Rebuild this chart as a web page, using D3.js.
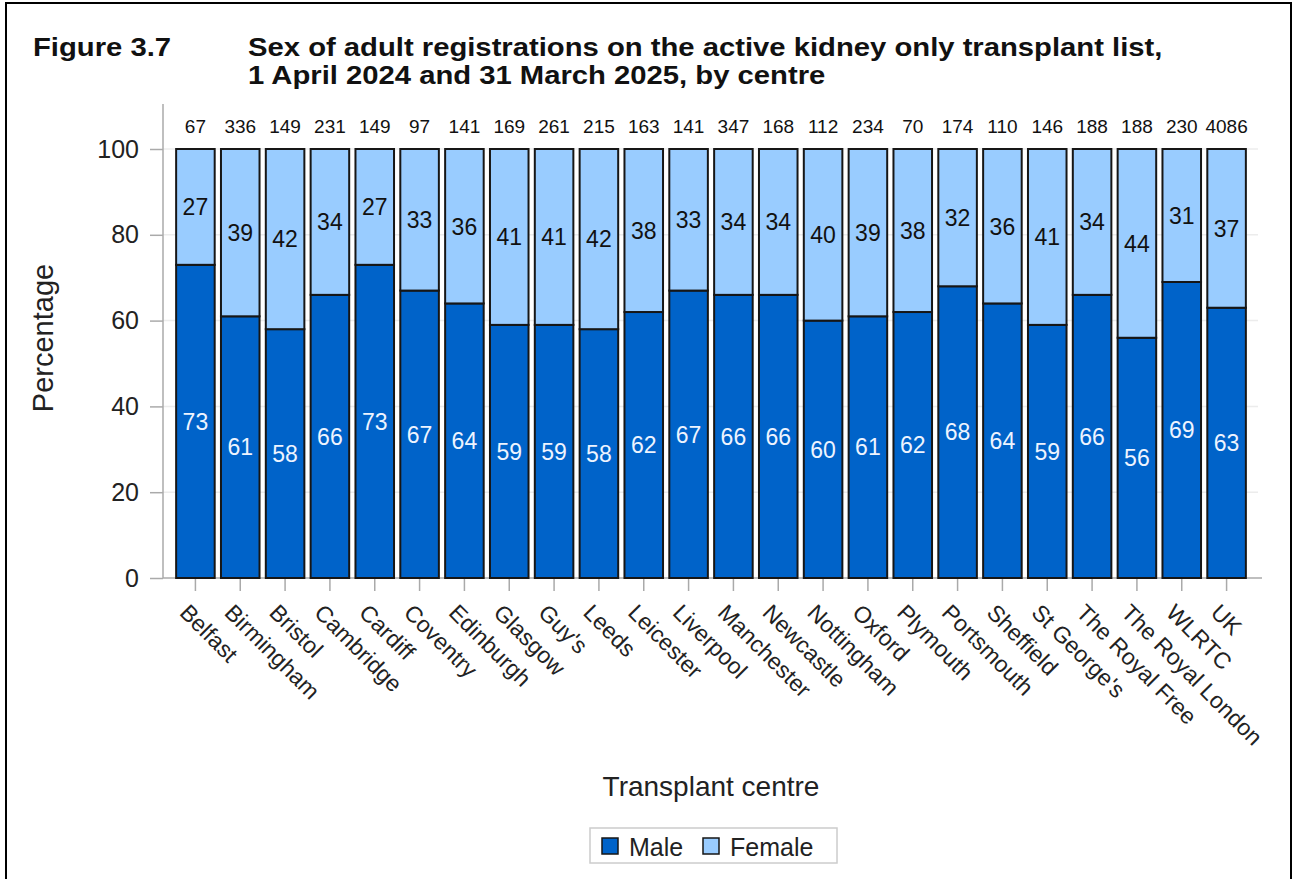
<!DOCTYPE html>
<html>
<head>
<meta charset="utf-8">
<script src="https://cdnjs.cloudflare.com/ajax/libs/d3/7.8.5/d3.min.js"></script>
<style>
  body { margin: 0; background: #fff; }
  svg { display: block; font-family: "Liberation Sans", Arial, sans-serif; }
</style>
</head>
<body>
<div id="chart"></div>
<script>
// data
const centres = ["Belfast", "Birmingham", "Bristol", "Cambridge", "Cardiff", "Coventry", "Edinburgh",
    "Glasgow", "Guy's", "Leeds", "Leicester", "Liverpool", "Manchester", "Newcastle", "Nottingham",
    "Oxford", "Plymouth", "Portsmouth", "Sheffield", "St George's", "The Royal Free", "The Royal London",
    "WLRTC", "UK"];
const malePct = [73, 61, 58, 66, 73, 67, 64, 59, 59, 58, 62, 67, 66, 66, 60, 61, 62, 68, 64, 59, 66, 56, 69, 63];
const femalePct = [27, 39, 42, 34, 27, 33, 36, 41, 41, 42, 38, 33, 34, 34, 40, 39, 38, 32, 36, 41, 34, 44, 31, 37];
const totals = [67, 336, 149, 231, 149, 97, 141, 169, 261, 215, 163, 141, 347, 168, 112, 234, 70, 174, 110, 146, 188, 188, 230, 4086];
const yTicks = [0, 20, 40, 60, 80, 100];
const seriesNames = ["Male", "Female"];
const seriesColours = ["#0063C9", "#99CCFF"];

const W = 1295, H = 879;
const svg = d3.select("#chart").append("svg")
    .attr("width", W)
    .attr("height", H);

// outer frame
svg.append("rect")
    .attr("x", 6).attr("y", 3)
    .attr("width", 1285).attr("height", 920)
    .attr("fill", "none")
    .attr("stroke", "#000")
    .attr("stroke-width", 2);

// titles (the source font is wider than Liberation Sans, so stretch a little)
const titleLines = [
    { x: 33, y: 56, text: "Figure 3.7" },
    { x: 248, y: 56, text: "Sex of adult registrations on the active kidney only transplant list," },
    { x: 248, y: 84, text: "1 April 2024 and 31 March 2025, by centre" }
];
svg.append("g")
    .selectAll("text")
    .data(titleLines)
    .join("text")
    .attr("transform", d => `translate(${d.x},${d.y}) scale(1.17,1)`)
    .attr("font-size", "25px").attr("font-weight", "bold")
    .attr("fill", "#111")
    .text(d => d.text);

// scales
const axisLeft = 163, axisRight = 1262, axisBottom = 578;
const x = d3.scaleBand()
    .domain(centres)
    .range([173, 1249])
    .paddingInner(0.14)
    .paddingOuter(0.07);
const y = d3.scaleLinear()
    .domain([0, 100])
    .range([axisBottom, 149]);

const data = centres.map((c, i) => ({ centre: c, male: malePct[i], female: femalePct[i], total: totals[i] }));
const stacked = d3.stack().keys(["male", "female"])(data);

// gridlines
svg.append("g")
    .selectAll("line")
    .data(yTicks.filter(t => t > 0))
    .join("line")
    .attr("x1", axisLeft).attr("x2", 1258)
    .attr("y1", d => y(d)).attr("y2", d => y(d))
    .attr("stroke", "#ececec")
    .attr("stroke-width", 1.5);

// y axis
const yAxis = svg.append("g")
    .attr("transform", `translate(${axisLeft},0)`)
    .call(d3.axisLeft(y).tickValues(yTicks).tickSize(13).tickPadding(11));
yAxis.select(".domain").remove();
yAxis.selectAll(".tick line").attr("stroke", "#aaa").attr("stroke-width", 1.5);
yAxis.selectAll(".tick text")
    .attr("font-size", "25px")
    .attr("font-family", "Liberation Sans, Arial, sans-serif")
    .attr("fill", "#222");
svg.append("line")
    .attr("x1", axisLeft).attr("x2", axisLeft)
    .attr("y1", y(110.5)).attr("y2", axisBottom)
    .attr("stroke", "#aaa").attr("stroke-width", 1.5);

// x axis
const xAxis = svg.append("g")
    .attr("transform", `translate(0,${axisBottom})`)
    .call(d3.axisBottom(x).tickSize(13).tickFormat(""));
xAxis.select(".domain").remove();
xAxis.selectAll(".tick line").attr("stroke", "#aaa").attr("stroke-width", 1.5);
svg.append("line")
    .attr("x1", axisLeft).attr("x2", axisRight)
    .attr("y1", axisBottom).attr("y2", axisBottom)
    .attr("stroke", "#aaa").attr("stroke-width", 1.5);

// rotated centre labels
svg.append("g")
    .selectAll("text")
    .data(centres)
    .join("text")
    .attr("transform", d => `translate(${x(d) + x.bandwidth() / 2 - 17},614) rotate(45)`)
    .attr("font-size", "23px")
    .attr("fill", "#222")
    .text(d => d);

// bars
const layers = svg.append("g")
    .selectAll("g")
    .data(stacked)
    .join("g")
    .attr("fill", (d, i) => seriesColours[i]);

layers.selectAll("rect")
    .data(d => d)
    .join("rect")
    .attr("x", d => x(d.data.centre))
    .attr("width", x.bandwidth())
    .attr("y", d => y(d[1]))
    .attr("height", d => y(d[0]) - y(d[1]))
    .attr("stroke", "#161616")
    .attr("stroke-width", 2);

// segment labels
layers.selectAll("text")
    .data(d => d)
    .join("text")
    .attr("x", d => x(d.data.centre) + x.bandwidth() / 2)
    .attr("y", d => (y(d[0]) + y(d[1])) / 2)
    .attr("dy", "0.36em")
    .attr("text-anchor", "middle")
    .attr("font-size", "23px")
    .attr("fill", (d, i, n) => d3.select(n[i].parentNode).datum().key === "male" ? "#eef4ff" : "#111")
    .text(d => d[1] - d[0]);

// totals above bars
svg.append("g")
    .selectAll("text")
    .data(data)
    .join("text")
    .attr("x", d => x(d.centre) + x.bandwidth() / 2)
    .attr("y", 133)
    .attr("text-anchor", "middle")
    .attr("font-size", "19px")
    .attr("fill", "#111")
    .text(d => d.total);

// axis titles
svg.append("text")
    .attr("transform", "translate(53,338) rotate(-90)")
    .attr("text-anchor", "middle")
    .attr("font-size", "29px")
    .attr("fill", "#222")
    .text("Percentage");
svg.append("text")
    .attr("x", 711).attr("y", 796)
    .attr("text-anchor", "middle")
    .attr("font-size", "28px")
    .attr("fill", "#222")
    .text("Transplant centre");

// legend
const legend = svg.append("g");
legend.append("rect")
    .attr("x", 590).attr("y", 828)
    .attr("width", 247).attr("height", 35)
    .attr("fill", "#fff")
    .attr("stroke", "#ccc")
    .attr("stroke-width", 1.5);
const legX = [602, 703];
seriesNames.forEach((name, i) => {
    legend.append("rect")
        .attr("x", legX[i]).attr("y", 838)
        .attr("width", 16).attr("height", 16)
        .attr("fill", seriesColours[i])
        .attr("stroke", "#161616")
        .attr("stroke-width", 1.5);
    legend.append("text")
        .attr("x", legX[i] + 27).attr("y", 856)
        .attr("font-size", "25px")
        .attr("fill", "#222")
        .text(name);
});
</script>
</body>
</html>
